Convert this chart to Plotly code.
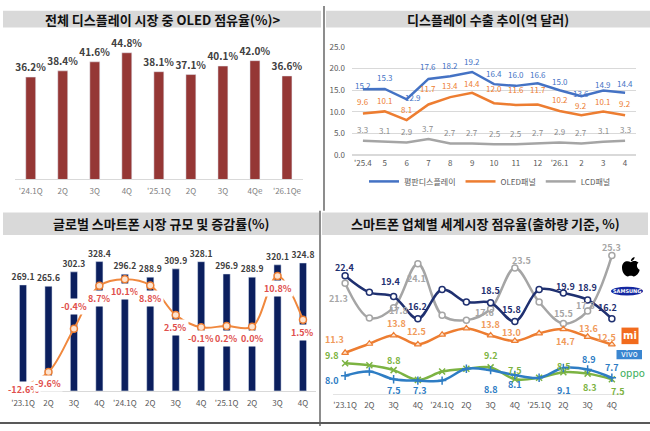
import plotly.graph_objects as go

W, H = 650, 431
FONT = "Noto Sans CJK KR"

# ---- data -------------------------------------------------------------
# OLED share of total display market (%)
oled_quarters = ["'24.1Q", "2Q", "3Q", "4Q", "'25.1Q", "2Q", "3Q", "4Qe", "'26.1Qe"]
oled_share = [36.2, 38.4, 41.6, 44.8, 38.1, 37.1, 40.1, 42.0, 36.6]

# display exports (100M USD)
export_months = ["'25.4", "5", "6", "7", "8", "9", "10", "11", "12", "'26.1", "2", "3", "4"]
export_flat = [15.2, 15.3, 12.9, 17.6, 18.2, 19.2, 16.4, 16.0, 16.6, 15.0, 13.6, 14.9, 14.4]
export_oled = [9.6, 10.1, 8.1, 11.7, 13.4, 14.4, 12.0, 11.6, 11.7, 10.2, 9.2, 10.1, 9.2]
export_lcd = [3.3, 3.1, 2.9, 3.7, 2.7, 2.7, 2.5, 2.5, 2.7, 2.9, 2.7, 3.1, 3.3]

# global smartphone market size and growth
phone_quarters = ["'23.1Q", "2Q", "3Q", "4Q", "'24.1Q", "2Q", "3Q", "4Q", "'25.1Q", "2Q", "3Q", "4Q"]
phone_shipments = [269.1, 265.6, 302.3, 328.4, 296.2, 288.9, 309.9, 328.1, 296.9, 288.9, 320.1, 324.8]
phone_growth = [-12.6, -9.6, -0.4, 8.7, 10.1, 8.8, 2.5, -0.1, 0.2, 0.0, 10.8, 1.5]

# vendor share (%)
share_apple = [21.3, 16.3, 17.8, 24.1, 16.7, 16.0, 17.6, 23.5, 18.6, 15.5, 17.3, 25.3]
share_samsung = [22.4, 20.0, 19.4, 16.2, 20.4, 18.6, 18.5, 15.8, 20.4, 19.9, 18.9, 16.2]
share_xiaomi = [11.3, 12.6, 13.8, 12.5, 13.9, 14.8, 13.8, 13.0, 14.1, 14.7, 13.6, 12.5]
share_vivo = [8.0, 8.6, 7.5, 7.3, 7.3, 9.0, 8.8, 8.1, 7.7, 9.1, 8.9, 7.7]
share_oppo = [9.8, 9.5, 8.8, 7.4, 8.6, 9.0, 9.2, 7.5, 7.7, 8.5, 8.3, 7.5]

# ---- label placement (index, dx px, dy px up) ------------------------
flat_shift = [4, 11, 2, 12, 11, 11, 11, 11, 9, 9, 3, 6, 9]
oled_shift = [12, 11, 11, 16, 12, 9, 15, 15, 15, 11, 10, 10, 12]
lcd_shift = 11
growth_shift = [-3, -11, 22, -13, -12, -13, -12, -11, -13, -12, -13, -13]

apple_marks = [(0, -7, -15), (2, 5, -3), (3, -1, -15), (6, -6, -3), (7, 7, 8), (9, 0, 10), (10, -2, 6), (11, 0, 8)]
samsung_marks = [(0, 0, 8), (2, -3, 15), (3, 0, 12), (6, 0, 12), (7, -3, 12), (9, 2, 7), (10, 0, 12), (11, -4, 11)]
xiaomi_marks = [(0, -11, 13), (2, 3, 12), (3, -1, 13), (6, 0, 11), (7, -3, 8), (9, 2, -12), (10, 1, 8), (11, -5, 7)]
vivo_marks = [(0, -13, -5), (2, 0, -11), (3, 2, -10), (6, 0, -19), (7, 0, -9), (9, 1, -22), (10, 1, 10), (11, 0, 10)]
oppo_marks = [(0, -13, 8), (2, 0, 10), (6, 0, 12), (7, 0, 9), (9, 1, 6), (10, 2, -14), (11, 6, -12)]


def dom_x(a, b):
    return [a / W, b / W]


def dom_y(top, bottom):
    return [1 - bottom / H, 1 - top / H]


def px(x, y):
    return x / W, 1 - y / H


def note(x, y, text, font, **kw):
    # annotation centred on its anchor point
    d = dict(x=x, y=y, text=text, showarrow=False, xanchor="center", yanchor="middle", font=font)
    d.update(kw)
    return d


fig = go.Figure()
annotations = []
shapes = []

# ---- panel 1: OLED share bars -------------------------------------------
fig.add_trace(go.Bar(
    x=list(range(len(oled_share))), y=oled_share, width=0.31,
    marker_color="#953735",
    text=[f"<b>{v:.1f}%</b>" for v in oled_share], textposition="outside",
    textfont=dict(size=10, color="#404040", family=FONT), constraintext="none",
    cliponaxis=False, showlegend=False, xaxis="x", yaxis="y",
))

# ---- panel 2: export lines ------------------------------------------------
series2 = [
    ("평판디스플레이", export_flat, "#4472c4", "#4472c4", flat_shift),
    ("OLED패널", export_oled, "#ed7d31", "#ed7d31", oled_shift),
    ("LCD패널", export_lcd, "#a5a5a5", "#8c8c8c", [lcd_shift] * len(export_lcd)),
]
for name, vals, color, lcolor, shifts in series2:
    fig.add_trace(go.Scatter(
        x=list(range(len(vals))), y=vals, mode="lines", name=name,
        line=dict(color=color, width=2.5), xaxis="x2", yaxis="y2",
    ))
    for i, v in enumerate(vals):
        annotations.append(note(
            i, v, f"{v:.1f}", dict(size=8, color=lcolor, family=FONT),
            xref="x2", yref="y2", yshift=shifts[i],
            xshift=6 if (name == "평판디스플레이" and i == 2) else 0,
        ))

# ---- panel 3: smartphone market bars + growth -----------------------------
xs3 = list(range(len(phone_shipments)))
fig.add_trace(go.Bar(
    x=xs3, y=phone_shipments, width=0.28, marker_color="#0b1f5e",
    text=[f"<b>{v:.1f}</b>" for v in phone_shipments], textposition="outside",
    textfont=dict(size=8.5, color="#404040", family=FONT), constraintext="none",
    cliponaxis=False, showlegend=False, xaxis="x3", yaxis="y3",
))
fig.add_trace(go.Scatter(
    x=xs3, y=phone_growth, mode="lines+markers", showlegend=False,
    line=dict(color="#f0883e", width=2, shape="spline", smoothing=1),
    marker=dict(size=7, color="#fde3cf", line=dict(color="#ed7d31", width=1.5)),
    cliponaxis=False, xaxis="x3", yaxis="y4",
))
for i, v in enumerate(phone_growth):
    annotations.append(note(
        i, v, f"<b>{v:.1f}%</b>", dict(size=9, color="#e0504d", family=FONT),
        xref="x3", yref="y4", yshift=growth_shift[i], bgcolor="white", borderpad=1,
    ))

# ---- panel 4: vendor share lines ------------------------------------------
xs4 = list(range(len(share_apple)))
vendors = [
    (share_apple, "#a5a5a5", "#a6a6a6", dict(symbol="circle", size=6, color="white", line=dict(color="#a5a5a5", width=1.5)), apple_marks),
    (share_samsung, "#1f3070", "#1f3070", dict(symbol="circle", size=6, color="white", line=dict(color="#1f3070", width=1.5)), samsung_marks),
    (share_xiaomi, "#ed7d31", "#f09a5a", dict(symbol="triangle-up", size=6, color="#fde3cf", line=dict(color="#ed7d31", width=1.2)), xiaomi_marks),
    (share_oppo, "#7cb342", "#7cb342", dict(symbol="x-thin", size=6, line=dict(color="#7cb342", width=1.5)), oppo_marks),
    (share_vivo, "#2e7dc4", "#2e7dc4", dict(symbol="cross-thin", size=6, line=dict(color="#2e7dc4", width=1.5)), vivo_marks),
]
for vals, color, lcolor, marker, marks in vendors:
    fig.add_trace(go.Scatter(
        x=xs4, y=vals, mode="lines+markers", showlegend=False,
        line=dict(color=color, width=2.5, shape="spline", smoothing=1),
        marker=marker, cliponaxis=False, xaxis="x4", yaxis="y5",
    ))
    for i, dx, dy in marks:
        annotations.append(note(
            i, vals[i], f"<b>{vals[i]:.1f}</b>", dict(size=9, color=lcolor, family=FONT),
            xref="x4", yref="y5", xshift=dx, yshift=dy,
        ))

# ---- titles with grey bands ------------------------------------------------
titles = [
    ("전체 디스플레이 시장 중 OLED 점유율(%)>", 3, 321, 5, 22),
    ("디스플레이 수출 추이(억 달러)", 326, 650, 5, 22),
    ("글로벌 스마트폰 시장 규모 및 증감률(%)", 3, 319, 212, 235),
    ("스마트폰 업체별 세계시장 점유율(출하량 기준, %)", 322, 648, 212, 235),
]
for text, x0, x1, y0, y1 in titles:
    a0, b0 = px(x0, y1)
    a1, b1 = px(x1, y0)
    shapes.append(dict(type="rect", xref="paper", yref="paper", x0=a0, x1=a1, y0=b0, y1=b1,
                       fillcolor="#d9d9d9", line=dict(width=0), layer="below"))
    cx, cy = px((x0 + x1) / 2, (y0 + y1) / 2)
    annotations.append(note(cx, cy, f"<b>{text}</b>", dict(size=13, color="#111111", family=FONT),
                            xref="paper", yref="paper"))

# divider lines
for x0, y0, x1, y1, color, width in [
    (324, 0, 324, 210, "#404040", 1.2),
    (320, 210, 320, 431, "#404040", 1.2),
    (0, 428, 650, 428, "#595959", 2),
]:
    a0, b0 = px(x0, y0)
    a1, b1 = px(x1, y1)
    shapes.append(dict(type="line", xref="paper", yref="paper", x0=a0, y0=b0, x1=a1, y1=b1,
                       line=dict(color=color, width=width)))

# ---- brand marks next to panel 4 -----------------------------------------------
apple_path = [
    ("M", [(8, 5)]),
    ("C", [(5, 3), (0, 4), (0, 10)]),
    ("C", [(0, 15), (4, 19), (6, 18)]),
    ("C", [(7, 17.5), (9, 17.5), (10, 18)]),
    ("C", [(12, 19), (16, 15), (16, 12)]),
    ("C", [(13, 10.5), (13, 6.5), (15, 5.5)]),
    ("C", [(13, 3), (10, 3.5), (8, 5)]),
    ("Z", []),
    ("M", [(8, 4)]),
    ("C", [(8, 2), (9.5, 0.5), (11.5, 0)]),
    ("C", [(11.5, 2), (10, 3.5), (8, 4)]),
    ("Z", []),
]
parts = []
for cmd, pts in apple_path:
    coords = []
    for lx, ly in pts:
        a, b = px(622 + lx * 1.1, 257.5 + ly * 1.1)
        coords.append(f"{a:.5f},{b:.5f}")
    parts.append(cmd + " " + " ".join(coords))
shapes.append(dict(type="path", xref="paper", yref="paper", path=" ".join(parts),
                   fillcolor="black", line=dict(width=0)))

a0, b0 = px(611, 297)
a1, b1 = px(643, 288)
shapes.append(dict(type="circle", xref="paper", yref="paper", x0=a0, y0=b0, x1=a1, y1=b1,
                   fillcolor="#1428a0", line=dict(width=0)))
cx, cy = px(627, 292.5)
annotations.append(note(cx, cy, "<b>SAMSUNG</b>", dict(size=5, color="white", family="DejaVu Sans"),
                        xref="paper", yref="paper"))

a0, b0 = px(621.5, 347)
a1, b1 = px(638.5, 330)
shapes.append(dict(type="rect", xref="paper", yref="paper", x0=a0, y0=b0, x1=a1, y1=b1,
                   fillcolor="#f26b1d", line=dict(width=0)))
cx, cy = px(630, 338.5)
annotations.append(note(cx, cy, "<b>mi</b>", dict(size=10, color="white", family="DejaVu Sans"),
                        xref="paper", yref="paper"))

a0, b0 = px(616.5, 362.5)
a1, b1 = px(642, 353)
shapes.append(dict(type="rect", xref="paper", yref="paper", x0=a0, y0=b0, x1=a1, y1=b1,
                   fillcolor="#3a86d0", line=dict(width=0)))
cx, cy = px(629.3, 357.8)
annotations.append(note(cx, cy, "vivo", dict(size=8, color="white", family="DejaVu Sans"),
                        xref="paper", yref="paper"))

cx, cy = px(632, 377)
annotations.append(note(cx, cy, "oppo", dict(size=10, color="#3cae5a", family="DejaVu Sans"),
                        xref="paper", yref="paper"))

# ---- layout ---------------------------------------------------------------------
tickfont = dict(size=8, color="#7f7f7f", family=FONT)

fig.update_layout(
    width=W, height=H,
    margin=dict(l=0, r=0, t=0, b=0),
    paper_bgcolor="white", plot_bgcolor="white",
    font=dict(family=FONT),
    xaxis=dict(domain=dom_x(14.7, 303), anchor="y", range=[-0.5, 8.5],
               tickvals=list(range(len(oled_quarters))), ticktext=oled_quarters,
               showgrid=False, zeroline=False, showline=True, linecolor="#d9d9d9",
               ticks="", ticklabelstandoff=4, tickfont=tickfont),
    yaxis=dict(domain=dom_y(30, 178), anchor="x", range=[0, 51], visible=False),
    xaxis2=dict(domain=dom_x(352, 636), anchor="y2", range=[-0.5, 12.5],
                tickvals=list(range(len(export_months))), ticktext=export_months,
                showgrid=False, zeroline=False, showline=False, ticks="", ticklabelstandoff=2,
                tickfont=dict(size=8, color="#595959", family=FONT)),
    yaxis2=dict(domain=dom_y(42, 153), anchor="x2", range=[0, 25], dtick=5, tickformat=".1f",
                showgrid=True, gridcolor="#d9d9d9", zeroline=True, zerolinecolor="#d9d9d9",
                showline=False, ticks="", ticklabelstandoff=6,
                tickfont=dict(size=8, color="#595959", family=FONT)),
    xaxis3=dict(domain=dom_x(10.3, 315.7), anchor="y3", range=[-0.5, 11.5],
                tickvals=xs3, ticktext=phone_quarters,
                showgrid=False, zeroline=False, showline=True, linecolor="#d9d9d9",
                ticks="", ticklabelstandoff=4, tickfont=dict(size=8, color="#595959", family=FONT)),
    yaxis3=dict(domain=dom_y(249.5, 395), anchor="x3", range=[0, 360], visible=False),
    yaxis4=dict(overlaying="y3", anchor="x3", range=[-13.6, 16.5], visible=False),
    xaxis4=dict(domain=dom_x(333, 624), anchor="y5", range=[-0.5, 11.5],
                tickvals=xs4, ticktext=phone_quarters,
                showgrid=False, zeroline=False, showline=True, linecolor="#e3e3e3",
                ticks="", ticklabelstandoff=4, tickfont=dict(size=8, color="#595959", family=FONT)),
    yaxis5=dict(domain=dom_y(245, 398), anchor="x4", range=[5.39, 26.85], visible=False),
    legend=dict(orientation="h", x=px(490, 0)[0], xanchor="center", y=px(0, 180)[1], yanchor="middle",
                font=dict(size=8, color="#595959", family=FONT), itemwidth=30,
                bgcolor="rgba(0,0,0,0)"),
    annotations=annotations,
    shapes=shapes,
)

# the page body has a default 8px margin; drop it so the figure fills the window
fig.write_html(
    "out.html",
    config={"displayModeBar": False},
    post_script="document.body.style.margin='0';document.body.style.overflow='hidden';",
)
